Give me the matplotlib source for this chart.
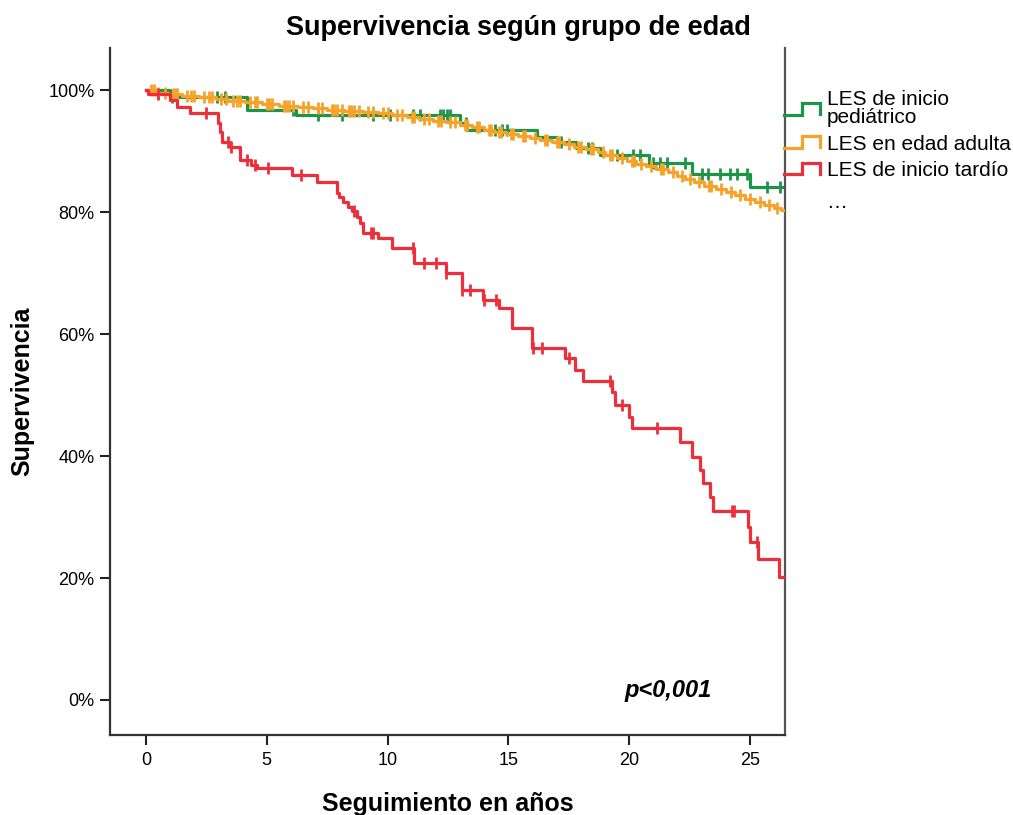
import numpy as np
import matplotlib
matplotlib.use("Agg")
import matplotlib.pyplot as plt
from matplotlib.legend_handler import HandlerBase
from matplotlib.lines import Line2D

plt.rcParams['font.family'] = ['Liberation Sans', 'DejaVu Sans']

# Kaplan-Meier: tiempos de evento (años) y supervivencia (%) tras cada evento
ped_t = [1.0, 4.2, 6.2, 13.0, 13.3, 16.2, 17.0, 17.8, 18.8, 20.8, 22.6, 25.0]
ped_s = [98.8, 96.7, 95.9, 94.6, 93.4, 92.3, 91.5, 90.5, 89.3, 88.0, 86.2, 84.1]
ped_cens = [1.08, 2.94, 3.27, 6.08, 7.12, 8.11, 9.4, 10.1, 11.05, 11.34,
            12.17, 12.3, 12.46, 12.58, 13.25, 14.45, 14.73, 14.94, 17.18,
            18.3, 18.46, 19.5, 20.16, 20.45, 20.99, 21.27, 21.56, 22.3,
            23.0, 23.26, 23.76, 24.17, 24.46, 24.88, 25.7, 26.24]

adu_t = [0.4, 0.9, 1.5, 2.2, 2.9, 3.4, 4.1, 4.8, 5.5, 6.3, 6.9, 7.5, 8.2,
         9.0, 9.6, 10.2, 10.8, 11.3, 11.9, 12.4, 13.0, 13.5, 14.0, 14.4,
         14.9, 15.4, 15.9, 16.3, 16.8, 17.3, 17.7, 18.2, 18.7, 19.0, 19.5,
         19.9, 20.3, 20.7, 21.1, 21.6, 22.0, 22.3, 22.7, 23.1, 23.6, 24.0,
         24.4, 24.8, 25.2, 25.6, 26.0, 26.3]
adu_s = [99.6, 99.3, 99.0, 98.8, 98.5, 98.2, 98.0, 97.7, 97.4, 97.2, 97.0,
         96.8, 96.6, 96.4, 96.2, 95.9, 95.6, 95.3, 95.0, 94.7, 94.3, 93.9,
         93.5, 93.1, 92.8, 92.5, 92.1, 91.8, 91.5, 91.1, 90.7, 90.3, 89.9,
         89.4, 88.9, 88.4, 87.9, 87.5, 87.1, 86.5, 85.9, 85.4, 84.9, 84.3,
         83.8, 83.3, 82.8, 82.2, 81.7, 81.2, 80.7, 80.3]
adu_cens = [0.2, 0.35, 0.5, 0.8, 1.1, 1.2, 1.3, 1.7, 1.85, 2.0, 2.4, 2.6,
            2.75, 3.1, 3.3, 3.6, 3.75, 3.9, 4.3, 4.5, 4.6, 5.0, 5.1, 5.2,
            5.7, 5.8, 5.9, 6.1, 6.5, 6.7, 7.1, 7.3, 7.7, 7.8, 7.9, 8.1, 8.4,
            8.5, 8.6, 8.8, 9.2, 9.4, 9.8, 10.0, 10.4, 10.6, 11.0, 11.1, 11.5,
            11.7, 12.1, 12.2, 12.6, 12.8, 13.2, 13.3, 13.7, 13.8, 14.2, 14.3,
            14.6, 14.7, 15.1, 15.2, 15.6, 15.7, 16.1, 16.5, 16.6, 17.0, 17.1,
            17.5, 17.9, 18.0, 18.4, 18.5, 18.9, 19.2, 19.3, 19.7, 20.1, 20.2,
            20.5, 20.9, 21.3, 21.4, 21.8, 22.2, 22.5, 22.9, 23.3, 23.4, 23.8,
            24.2, 24.6, 25.0, 25.4, 25.8, 26.1]

tar_t = [0.1, 0.99, 1.27, 1.82, 2.98, 3.05, 3.15, 3.48, 3.89, 4.35, 4.58,
         6.03, 7.07, 7.89, 8.0, 8.16, 8.36, 8.52, 8.72, 8.86, 8.98, 9.6,
         10.2, 11.1, 12.4, 13.1, 13.95, 14.6, 15.15, 15.98, 17.35, 17.75,
         18.1, 19.3, 19.4, 20.0, 20.1, 22.1, 22.6, 22.93, 23.05, 23.35,
         23.47, 24.92, 25.0, 25.33, 26.2]
tar_s = [99.3, 98.4, 97.3, 96.2, 94.6, 93.1, 91.5, 90.7, 88.5, 87.7, 87.2,
         86.1, 85.0, 83.1, 82.5, 81.7, 80.9, 80.1, 79.2, 78.2, 76.5, 75.7,
         74.1, 71.6, 70.0, 67.2, 65.6, 64.3, 61.0, 57.7, 56.0, 54.1, 52.3,
         50.5, 48.4, 46.4, 44.6, 42.3, 39.8, 37.7, 35.6, 33.3, 31.0, 28.4,
         25.9, 23.1, 20.2]
tar_cens = [0.5, 2.5, 3.4, 3.5, 4.2, 4.5, 5.05, 6.4, 8.6, 9.3, 9.4, 11.05,
            11.5, 12.0, 12.4, 13.1, 13.4, 14.0, 14.5, 16.0, 16.4, 17.5,
            19.2, 19.7, 21.15, 24.25, 24.35, 25.3]

t_end = 26.4

grupos = ['LES de inicio\npediátrico', 'LES en edad adulta', 'LES de inicio tardío']
colores = ['#1e9448', '#f7a229', '#ee2f3b']


def curva(t, s):
    tt = np.r_[0.0, t, t_end]
    ss = np.r_[100.0, s, s[-1]]
    return tt, ss


def valor_en(tt, ss, x):
    idx = np.searchsorted(tt, x, side='right') - 1
    return ss[idx]


class ManejadorEscalon(HandlerBase):
    def create_artists(self, legend, orig_handle, xdescent, ydescent,
                       width, height, fontsize, trans):
        x0, y0 = -xdescent, -ydescent
        xm = x0 + 0.5 * width
        xs = [x0, xm, xm, x0 + width, x0 + width]
        ys = [y0 + 0.1 * height, y0 + 0.1 * height, y0 + 0.9 * height,
              y0 + 0.9 * height, y0 + 0.15 * height]
        ln = Line2D(xs, ys, color=orig_handle.get_color(),
                    lw=orig_handle.get_linewidth(), solid_joinstyle='miter')
        ln.set_transform(trans)
        return [ln]


fig = plt.figure(figsize=(10.13, 8.15), dpi=100)
ax = fig.add_axes([110 / 1013, 1 - 735 / 815, 675 / 1013, 687 / 815])

series = [(ped_t, ped_s, ped_cens), (adu_t, adu_s, adu_cens), (tar_t, tar_s, tar_cens)]
orden = [2, 0, 1]
handles = [None, None, None]
for i in orden:
    t, s, c = series[i]
    tt, ss = curva(t, s)
    ln, = ax.step(tt, ss, where='post', color=colores[i], lw=2.3, zorder=2 + i)
    c = np.array(c)
    ax.plot(c, valor_en(tt, ss, c), ls='none', marker='|', ms=8, mew=2,
            color=colores[i], zorder=2 + i)
    handles[i] = ln

ax.set_xlim(-1.49, 26.45)
ax.set_ylim(-5.74, 106.9)
ax.set_xticks([0, 5, 10, 15, 20, 25])
ax.set_yticks([0, 20, 40, 60, 80, 100])
ax.set_yticklabels([f'{v}%' for v in [0, 20, 40, 60, 80, 100]])
ax.tick_params(axis='both', labelsize=13, length=7, width=1.5, color='#222222')
ax.tick_params(axis='x', pad=5)
ax.tick_params(axis='y', pad=4)
for lado in ['left', 'bottom', 'right']:
    ax.spines[lado].set_linewidth(1.6)
    ax.spines[lado].set_color('#333333')
ax.spines['right'].set_color('#555555')
ax.spines['top'].set_visible(False)

ax.set_xlabel('Seguimiento en años', fontsize=18, fontweight='bold', labelpad=17)
ax.set_ylabel('Supervivencia', fontsize=18, fontweight='bold', labelpad=10)
fig.text(518 / 1013, 1 - 28 / 815, 'Supervivencia según grupo de edad',
         ha='center', va='center', fontsize=19.5, fontweight='bold')

ax.text(21.6, 1.6, 'p<0,001', ha='center', va='center', fontsize=17,
        fontweight='bold', style='italic')

leg = fig.legend(handles, grupos, loc='upper left',
                 bbox_to_anchor=(784 / 1013, 1 - 90 / 815), frameon=False,
                 borderpad=0, borderaxespad=0, fontsize=15, handlelength=1.75,
                 handletextpad=0.3, labelspacing=0.35,
                 handler_map={Line2D: ManejadorEscalon()})
for txt in leg.get_texts():
    txt.set_linespacing(0.95)
fig.text(826 / 1013, 1 - 208 / 815, '…', ha='left', va='baseline', fontsize=15)

fig.savefig('out.png', dpi=100)
